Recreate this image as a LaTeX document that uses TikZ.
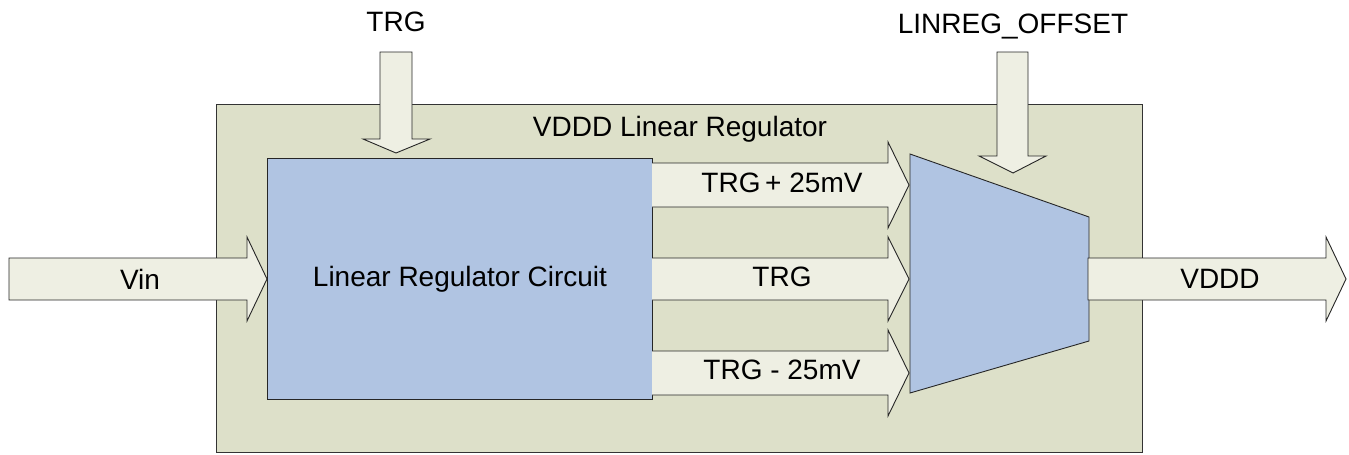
\documentclass[tikz,border=0pt]{standalone}
\usepackage{fontspec}
\setmainfont{Liberation Sans}
\definecolor{boxgreen}{RGB}{221,224,201}
\definecolor{arrfill}{RGB}{238,239,227}
\definecolor{blockblue}{RGB}{176,196,226}
\tikzset{
  outerbox/.style={draw=black!80, line width=1pt, fill=boxgreen},
  bluebox/.style={draw=black!85, line width=0.9pt, fill=blockblue},
  blockarrow/.style={draw=black!85, line width=0.9pt, fill=arrfill, line join=miter},
  lbl/.style={font=\fontsize{28}{31}\selectfont, inner sep=0pt, anchor=center}
}
\begin{document}
\begin{tikzpicture}[x=1pt,y=-1pt]
\useasboundingbox (0,0) rectangle (1349,455);
% outer box
\draw[outerbox] (216,104) rectangle (1142,452);
\node[lbl] (title) at (680,129) {VDDD Linear Regulator};
% blue block
\draw[bluebox] (267,158) rectangle (652,399);
\node[lbl] (lrc) at (460,279) {Linear Regulator Circuit};
% Vin arrow
\draw[blockarrow] (9,258) -- (247,258) -- (247,237) -- (267,279) -- (247,321) -- (247,300) -- (9,300) -- cycle;
\node[lbl] (vin) at (140,279) {Vin};
% three output arrows
\draw[blockarrow] (652,163) -- (888,163) -- (888,142) -- (909,185) -- (888,228) -- (888,207) -- (652,207);
\node[lbl] (tp) at (782,183) {TRG\,+ 25mV};
\draw[blockarrow] (652,258) -- (888,258) -- (888,237) -- (909,279) -- (888,321) -- (888,300) -- (652,300);
\node[lbl] (tc) at (782,277) {TRG};
\draw[blockarrow] (652,351) -- (888,351) -- (888,330) -- (909,373) -- (888,416) -- (888,395) -- (652,395);
\node[lbl] (tm) at (782,370) {TRG - 25mV};
% mux trapezoid
\draw[bluebox] (910,154) -- (1089,217) -- (1089,341) -- (910,393) -- cycle;
% VDDD arrow
\draw[blockarrow] (1088,258) -- (1326,258) -- (1326,237) -- (1346,279) -- (1326,321) -- (1326,300) -- (1088,300) -- cycle;
\node[lbl] (vddd) at (1220,279) {VDDD};
% TRG down arrow
\draw[blockarrow] (380,52) -- (412,52) -- (412,139) -- (430,139) -- (396,153) -- (363,139) -- (380,139) -- cycle;
\node[lbl] (trg) at (396,22) {TRG};
% LINREG_OFFSET down arrow
\draw[blockarrow] (997,52) -- (1028,52) -- (1028,156) -- (1046,156) -- (1013,173) -- (979,156) -- (997,156) -- cycle;
\node[lbl, anchor=base] (lo) at (1013,33) {LINREG\_OFFSET};
\end{tikzpicture}
\end{document}
